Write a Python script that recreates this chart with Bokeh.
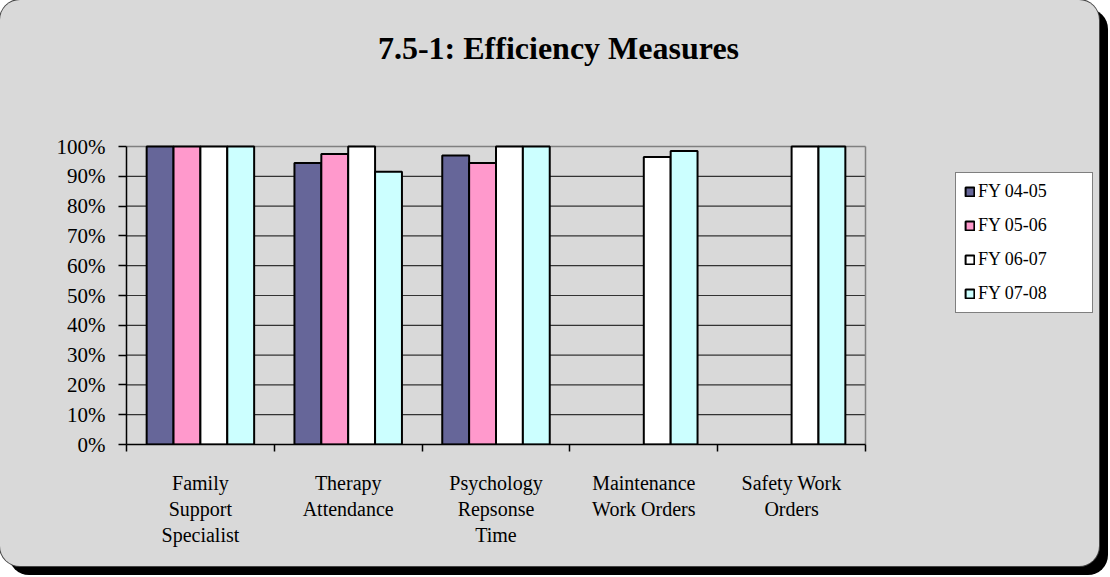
import numpy as np
from bokeh.plotting import figure
from bokeh.models import (ColumnDataSource, Range1d, FixedTicker, PrintfTickFormatter,
                          Legend, LegendItem, Label)
from bokeh.transform import dodge
from bokeh.embed import file_html
from bokeh.resources import INLINE

# ---- data ----
categories = ["Family Support Specialist", "Therapy Attendance", "Psychology Repsonse Time",
              "Maintenance Work Orders", "Safety Work Orders"]
tick_labels = ["Family\nSupport\nSpecialist", "Therapy\nAttendance", "Psychology\nRepsonse\nTime",
               "Maintenance\nWork Orders", "Safety Work\nOrders"]
series_names = ["FY 04-05", "FY 05-06", "FY 06-07", "FY 07-08"]
fy_04_05 = [100, 94.5, 97, None, None]
fy_05_06 = [100, 97.5, 94.5, None, None]
fy_06_07 = [100, 100, 100, 96.5, 100]
fy_07_08 = [100, 91.5, 100, 98.5, 100]
y_ticks = [0, 10, 20, 30, 40, 50, 60, 70, 80, 90, 100]
colors = ["#666699", "#FF99CC", "#FFFFFF", "#CCFFFF"]
title_text = "7.5-1:  Efficiency Measures"

series = [fy_04_05, fy_05_06, fy_06_07, fy_07_08]
n = len(categories)
ymax = max(y_ticks)
xc = np.arange(n) + 0.5
data = {"xc": xc}
for i, s in enumerate(series):
    data["s%d" % i] = np.array([np.nan if v is None else v for v in s], dtype=float)
source = ColumnDataSource(data)

BG = "#D9D9D9"
SERIF = "Liberation Serif"

# The frame is larger than the plotted area so that title and legend sit inside it.
# Plotted area: x in [0, n] -> 739 px of a 968 px wide frame;
#               y in [0, ymax] -> 298 px of a 434 px tall frame.
x_end = n * 968.0 / 739.0
y_end = ymax * 434.0 / 298.0

p = figure(width=1099, height=566, x_range=Range1d(0, x_end), y_range=Range1d(0, y_end),
           output_backend="svg", toolbar_location=None, title=None,
           min_border_left=126, min_border_right=5, min_border_top=10, min_border_bottom=122)
p.background_fill_color = None
p.border_fill_color = None
p.outline_line_color = None
p.styles = {"border-radius": "20px", "overflow": "hidden", "background-color": BG,
            "box-shadow": "0 0 0 1px #444444, 9px 9px 0 0 #000000"}

# grid lines and plot-area border
inner = [t for t in y_ticks if 0 < t < ymax]
p.segment(x0=[0] * len(inner), x1=[n] * len(inner), y0=inner, y1=inner,
          line_color="#333333", line_width=1.2)
p.segment(x0=[0, n], x1=[n, n], y0=[ymax, 0], y1=[ymax, ymax],
          line_color="#808080", line_width=1.5)

gap_ratio = 1.5
bw = 1.0 / (len(series) + gap_ratio)
renderers = []
for i, name in enumerate(series_names):
    off = (i - (len(series) - 1) / 2) * bw
    r = p.vbar(x=dodge("xc", off, range=p.x_range), top="s%d" % i, bottom=0, width=bw,
               source=source, fill_color=colors[i], line_color="black", line_width=2)
    renderers.append(r)

# x axis
xa = p.xaxis[0]
xa.bounds = (0, n)
xa.ticker = FixedTicker(ticks=list(xc), minor_ticks=list(range(n + 1)))
xa.major_label_overrides = {float(x): lbl for x, lbl in zip(xc, tick_labels)}
xa.major_tick_line_color = None
xa.major_tick_out = 0
xa.major_tick_in = 0
xa.minor_tick_out = 7
xa.minor_tick_in = 0
xa.minor_tick_line_color = "black"
xa.minor_tick_line_width = 1.5
xa.axis_line_color = "black"
xa.axis_line_width = 1.5
xa.major_label_standoff = 20
xa.major_label_text_font = SERIF
xa.major_label_text_font_size = "20px"
xa.major_label_text_color = "black"
xa.major_label_text_align = "center"

# y axis
ya = p.yaxis[0]
ya.bounds = (0, ymax)
ya.ticker = FixedTicker(ticks=y_ticks)
ya.formatter = PrintfTickFormatter(format="%d%%")
ya.major_tick_out = 8
ya.major_tick_in = 0
ya.minor_tick_line_color = None
ya.major_tick_line_color = "black"
ya.major_tick_line_width = 1.5
ya.axis_line_color = "black"
ya.axis_line_width = 1.5
ya.major_label_standoff = 13
ya.major_label_text_font = SERIF
ya.major_label_text_font_size = "21px"
ya.major_label_text_color = "black"

p.xgrid.visible = False
p.ygrid.visible = False

# title
p.add_layout(Label(x=436, y=397, x_units="screen", y_units="screen", text=title_text,
                   text_font=SERIF, text_font_style="bold", text_font_size="32px",
                   text_align="center", text_baseline="alphabetic", text_color="black"))

# legend
legend = Legend(items=[LegendItem(label=nm, renderers=[r]) for nm, r in zip(series_names, renderers)],
                location=(829, 131), margin=0, padding=8, spacing=13,
                glyph_width=11, glyph_height=11, label_height=21, label_width=106,
                label_standoff=3, label_text_font=SERIF, label_text_font_size="18px",
                label_text_color="black", background_fill_color="white", background_fill_alpha=1,
                border_line_color="black", border_line_width=1.2)
p.add_layout(legend, "center")

open("out.html", "w").write(file_html(p, INLINE, title="7.5-1: Efficiency Measures"))
